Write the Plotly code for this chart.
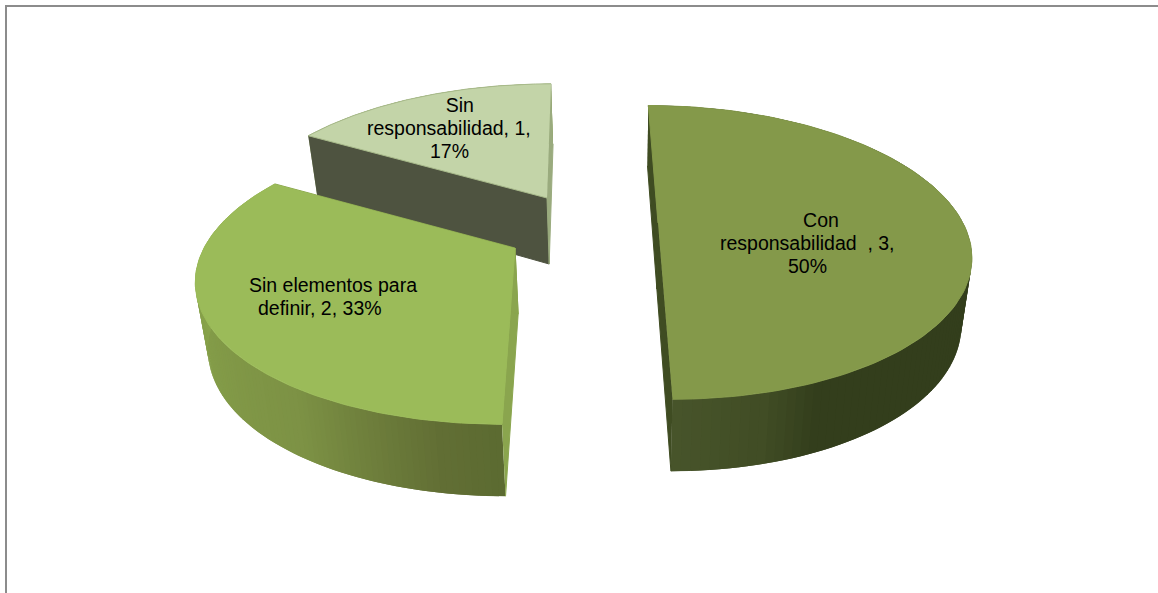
import numpy as np
import plotly.graph_objects as go

# ---- data -----------------------------------------------------------------
categories = ["Con responsabilidad", "Sin elementos para definir", "Sin responsabilidad"]
values = [3, 2, 1]
label_templates = [
    ["\u00a0\u00a0\u00a0\u00a0\u00a0Con", "responsabilidad\u00a0\u00a0, {v},", "{p}%"],
    ["Sin elementos para", "definir, {v}, {p}%\u00a0\u00a0\u00a0\u00a0\u00a0"],
    ["\u00a0\u00a0\u00a0\u00a0Sin", "responsabilidad, {v},", "{p}%"],
]

# ---- styling / layout -----------------------------------------------------
W, H = 1158, 593
RX = [305, 311, 306]       # pie radii on the page, per slice
RY = [141, 141, 137]
PERSP = 0.2                # perspective strength for depth in the plane
VANISH_X = [600, 567, 571] # point each slice's plane converges towards
DEPTH = 66                 # extrusion height
DEPTH_PERSP = 0.09
BOTTOM_SHRINK = 0.97       # bottom ring narrows slightly
BOTTOM_CX = 620
ROTATION = 0

explode_anchor = [(658, 223), (515, 248), (547, 198)]   # slice tip, per slice
top_colors = ["#84994a", "#9bbb59", "#c3d4a8"]
cut_start_colors = ["#3f4c22", "#8aa54e", "#4e5340"]   # face at starting angle
cut_end_colors = ["#3f4c22", "#8aa54e", "#9aab7e"]     # face at closing angle
top_lines = ["#84994a", "#9bbb59", "#a8ba8b"]
wall_stops = [
    [(0.0, "#333e1c"), (0.87, "#333e1c"), (0.92, "#414d25"), (1.0, "#48552b")],
    [(0.0, "#5c6b31"), (0.08, "#626f35"), (0.28, "#7d9245"), (0.75, "#8aa64c"), (1.0, "#8fab50")],
    [(0.0, "#8aa05f"), (1.0, "#8aa05f")],
]
label_pos = [(807, 243), (333, 296), (449, 128)]
LINE_STEP = 23
FONT_SIZE = 19.5


def hex_rgb(c):
    return np.array([int(c[i:i + 2], 16) for i in (1, 3, 5)], float)


def mix(stops, t):
    for (t0, c0), (t1, c1) in zip(stops, stops[1:]):
        if t <= t1:
            f = (t - t0) / (t1 - t0)
            r = hex_rgb(c0) * (1 - f) + hex_rgb(c1) * f
            return "rgb(%d,%d,%d)" % tuple(r)
    return stops[-1][1]


def project(idx, X, Y, bottom=False):
    X, Y = np.asarray(X, float), np.asarray(Y, float)
    anchor, vx = explode_anchor[idx], VANISH_X[idx]
    s = 1 / (1 + PERSP * Y)
    x = vx + (anchor[0] - vx + RX[idx] * X) * s
    y = anchor[1] - RY[idx] * Y * s
    if bottom:
        x = BOTTOM_CX + (x - BOTTOM_CX) * BOTTOM_SHRINK
        y = y + DEPTH * (1 - DEPTH_PERSP * Y)
    return x, y


def poly(fig, xs, ys, fill, line=None, lw=1.0):
    fig.add_trace(go.Scatter(
        x=np.asarray(xs).tolist(), y=np.asarray(ys).tolist(), mode="lines", fill="toself",
        fillcolor=fill, line=dict(color=line or fill, width=lw),
        hoverinfo="skip", showlegend=False))


fig = go.Figure()
total = sum(values)
edges = np.cumsum([0] + values) / total * 360 + ROTATION
slices = list(zip(edges[:-1], edges[1:]))

# back slice first, front slices after
for idx in (2, 1, 0):
    a0, a1 = np.radians(slices[idx])
    anchor = explode_anchor[idx]
    th = np.linspace(a0, a1, 121)
    X, Y = np.sin(th), np.cos(th)

    # outer wall, as overlapping shaded strips
    xt, yt = project(idx, X, Y)
    xb, yb = project(idx, X, Y, bottom=True)
    n = len(th) - 1
    for i in range(n):
        j = min(i + 2, n)
        poly(fig, [xt[i], xt[j], xb[j], xb[i]], [yt[i], yt[j], yb[j], yb[i]],
             mix(wall_stops[idx], (i + .5) / n), lw=0)

    # two radial cut faces
    for ang, col in ((a0, cut_start_colors[idx]), (a1, cut_end_colors[idx])):
        px, py = [np.sin(ang), 0], [np.cos(ang), 0]
        xa, ya = project(idx, px, py)
        xc, yc = project(idx, px, py, bottom=True)
        poly(fig, [xa[0], xa[1], xc[1], xc[0]], [ya[0], ya[1], yc[1], yc[0]], col)

    # top surface
    tx = np.concatenate([[anchor[0]], xt])
    ty = np.concatenate([[anchor[1]], yt])
    poly(fig, tx, ty, top_colors[idx], top_lines[idx])

annotations = []
for i, v in enumerate(values):
    pct = round(v / total * 100)
    lines = label_templates[i]
    for k, tmpl in enumerate(lines):
        annotations.append(dict(
            x=label_pos[i][0], y=label_pos[i][1] + (k - (len(lines) - 1) / 2) * LINE_STEP,
            xref="x", yref="y", text=tmpl.format(v=v, p=pct), showarrow=False,
            font=dict(family="Liberation Sans", size=FONT_SIZE, color="#000000"),
            align="center", xanchor="center", yanchor="middle"))

frame = dict(type="line", xref="x", yref="y", line=dict(color="#8c8c8c", width=2))
fig.update_layout(
    width=W, height=H, margin=dict(l=0, r=0, t=0, b=0),
    paper_bgcolor="#ffffff", plot_bgcolor="#ffffff", showlegend=False,
    xaxis=dict(range=[0, W], visible=False, fixedrange=True),
    yaxis=dict(range=[H, 0], visible=False, fixedrange=True),
    annotations=annotations,
    shapes=[dict(frame, x0=5, y0=6, x1=W, y1=6), dict(frame, x0=6, y0=5, x1=6, y1=H)],
)

fig.write_html("out.html", config={"displayModeBar": False}, post_script=(
    "document.body.style.margin='0';"
    "document.documentElement.style.overflow='hidden';"))
